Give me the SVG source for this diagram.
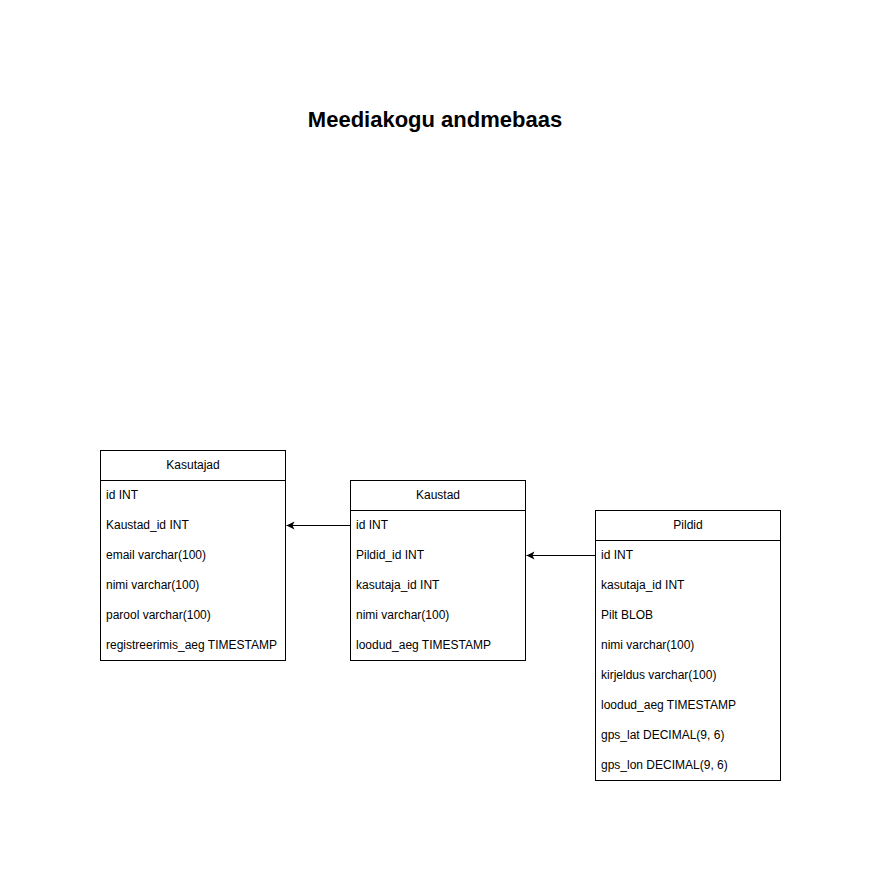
<svg xmlns="http://www.w3.org/2000/svg" width="881" height="881" viewBox="0 0 881 881">
<style>
.box{fill:#fff;stroke:#000;stroke-width:1}
.hd{font-family:"Liberation Sans",Arial,sans-serif;font-size:12px;fill:#000;text-anchor:middle}
.row{font-family:"Liberation Sans",Arial,sans-serif;font-size:12px;fill:#000}
.title{font-family:"Liberation Sans",Arial,sans-serif;font-size:22px;font-weight:bold;fill:#000;text-anchor:middle}
.edge{stroke:#000;stroke-width:1;fill:none}
</style>
<defs>
<marker id="arr" markerWidth="10" markerHeight="10" refX="8" refY="4" orient="auto" markerUnits="userSpaceOnUse">
<path d="M0,0 L8,4 L0,8 L2,4 Z" fill="#000"/>
</marker>
</defs>
<rect width="881" height="881" fill="#fff"/>
<text id="title" class="title" x="435" y="127">Meediakogu andmebaas</text>
<g id="kasutajad">
<rect class="box" x="100.5" y="450.5" width="185" height="210"/>
<line class="edge" x1="100.5" y1="480.5" x2="285.5" y2="480.5"/>
<text class="hd" x="193" y="469">Kasutajad</text>
<text class="row" x="106" y="499">id INT</text>
<text class="row" x="106" y="529">Kaustad_id INT</text>
<text class="row" x="106" y="559">email varchar(100)</text>
<text class="row" x="106" y="589">nimi varchar(100)</text>
<text class="row" x="106" y="619">parool varchar(100)</text>
<text class="row" x="106" y="649">registreerimis_aeg TIMESTAMP</text>
</g>
<g id="kaustad">
<rect class="box" x="350.5" y="480.5" width="175" height="180"/>
<line class="edge" x1="350.5" y1="510.5" x2="525.5" y2="510.5"/>
<text class="hd" x="438" y="499">Kaustad</text>
<text class="row" x="356" y="529">id INT</text>
<text class="row" x="356" y="559">Pildid_id INT</text>
<text class="row" x="356" y="589">kasutaja_id INT</text>
<text class="row" x="356" y="619">nimi varchar(100)</text>
<text class="row" x="356" y="649">loodud_aeg TIMESTAMP</text>
</g>
<g id="pildid">
<rect class="box" x="595.5" y="510.5" width="185" height="270"/>
<line class="edge" x1="595.5" y1="540.5" x2="780.5" y2="540.5"/>
<text class="hd" x="688" y="529">Pildid</text>
<text class="row" x="601" y="559">id INT</text>
<text class="row" x="601" y="589">kasutaja_id INT</text>
<text class="row" x="601" y="619">Pilt BLOB</text>
<text class="row" x="601" y="649">nimi varchar(100)</text>
<text class="row" x="601" y="679">kirjeldus varchar(100)</text>
<text class="row" x="601" y="709">loodud_aeg TIMESTAMP</text>
<text class="row" x="601" y="739">gps_lat DECIMAL(9, 6)</text>
<text class="row" x="601" y="769">gps_lon DECIMAL(9, 6)</text>
</g>
<g id="connectors">
<line class="edge" x1="350" y1="525.5" x2="286.5" y2="525.5" marker-end="url(#arr)"/>
<line class="edge" x1="595" y1="555.5" x2="526.5" y2="555.5" marker-end="url(#arr)"/>
</g>
</svg>
